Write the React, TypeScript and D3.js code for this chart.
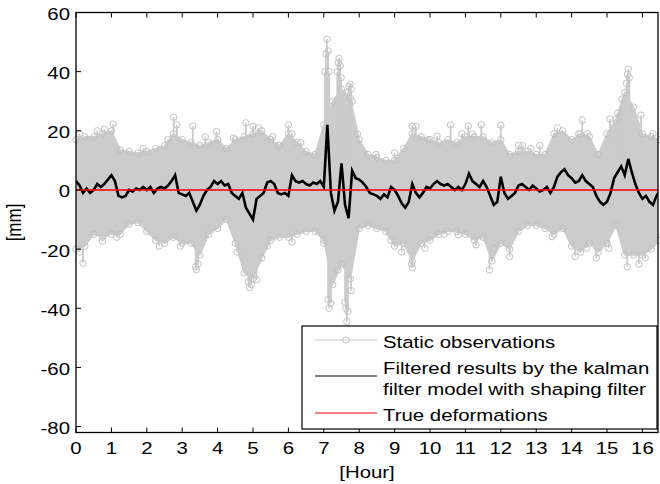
import React from "react";
import * as d3 from "d3";

// ---------- data ----------
const envHours = d3.range(0, 16.51, 0.25);
const obsUpper = [17, 18, 18, 19, 20, 13.5, 13, 12.5, 13, 14, 15, 19, 17, 16, 15, 16, 17, 14, 17, 18, 19, 20, 17, 15, 19, 16, 13, 12, 22, 30, 34, 31, 17, 12, 11, 10, 10, 14, 19, 18, 17, 16, 17, 16, 18, 18, 18, 16, 17, 12, 13, 13, 12, 12, 19, 20, 17, 19, 18, 12, 19, 24, 33, 28, 19, 18, 17];
const obsLower = [-20, -19, -15, -16, -15, -15, -11.5, -11, -14, -17, -18, -16, -18, -18, -22, -15, -13, -10, -18, -28, -30, -23, -17, -16, -16, -15, -14, -14, -17, -32, -25, -30, -13, -12, -13, -14, -19, -18, -24, -18, -17, -15, -14, -14, -15, -17, -16, -24, -18, -20, -14, -12, -12, -13, -15, -13, -19, -21, -18, -21, -18, -12, -22, -22, -22, -20, -17];
const upperSpikes: [number, number][] = [[0.1, 19], [0.6, 20], [0.8, 20.5], [1.05, 22.3], [1.9, 14], [2.6, 17], [2.76, 24.6], [2.85, 22], [3.3, 21.6], [3.65, 18], [3.97, 19.7], [4.45, 17.5], [4.8, 22.7], [5.0, 21.5], [5.15, 21], [5.55, 18], [5.73, 15], [6.0, 22], [6.1, 19], [6.35, 16], [7.03, 40], [7.06, 46], [7.09, 51], [7.12, 47], [7.15, 40], [7.38, 40], [7.41, 43], [7.43, 44.5], [7.46, 42], [7.49, 38], [7.68, 33], [7.71, 35], [7.74, 35.8], [7.77, 34], [7.8, 30], [7.95, 19], [8.47, 12], [9.0, 12.5], [9.5, 21.5], [9.6, 21.5], [9.95, 17], [10.2, 18.2], [10.58, 22], [10.9, 19], [11.08, 21.6], [11.2, 19], [11.45, 22], [12.0, 21.9], [12.5, 15], [12.62, 15], [12.85, 14], [13.1, 15], [13.6, 21], [14.2, 19], [14.3, 23.6], [14.45, 19], [15.08, 24], [15.3, 26], [15.42, 30.7], [15.55, 36], [15.58, 39], [15.6, 40.9], [15.63, 38], [15.96, 25.3], [16.3, 19]];
const lowerSpikes: [number, number][] = [[0.1, -21], [0.2, -24.8], [0.75, -17.3], [1.15, -16], [2.35, -19], [2.95, -19], [3.38, -26], [3.4, -27], [3.45, -25], [4.55, -21], [4.87, -31], [4.9, -33], [4.95, -32], [5.1, -30.4], [5.4, -19], [6.1, -17.5], [7.0, -18], [7.12, -37], [7.15, -40], [7.2, -38.3], [7.4, -27], [7.6, -38], [7.62, -40], [7.65, -44.5], [7.68, -41], [7.77, -34], [8.9, -17], [9.2, -21], [9.48, -25], [9.5, -26.3], [9.85, -19.7], [10.4, -15], [10.8, -15.2], [11.3, -18.6], [11.68, -27], [11.8, -19.7], [12.25, -22.5], [13.45, -15.8], [14.1, -22.5], [14.43, -19.7], [14.7, -23], [15.05, -19.7], [15.57, -26], [15.9, -25], [16.08, -23]];

const filtHours = d3.range(0, 16.51, 0.1);
const filtered = [
  3, 1.5, -1, 0.5, -1, 0, 2, 1, 2, 3.5,
  5, 3, -2, -2.5, -2, 0, -0.5, 0.5, 0, 1,
  0, 1, -1, 0.5, 1, 0.5, 1.5, 3, 5, -1,
  -1.5, -2, -1, -4, -7, -5, -2, 0, 1, 3,
  2, 3, 1.5, 2, -1, -2, -3, -1, -6, -8,
  -10, -3, -2, -1, 2.5, 3, 2, -1, -1.5, -1,
  -2, 5, 3, 2.5, 3, 2, 1.5, 2.5, 2, 3,
  1, 22, -1, -7, -4, 9, -5, -9.5, 6.5, 4,
  3.5, 2.5, 1, -1, -1.5, -2, -3, -1.5, -2.5, 1,
  0, -2, -4.5, -6, -4, 2, -1, -2.5, -1, 1,
  0.5, 2, 3, 2, 1.5, 2, 1, 0, 1, 0,
  2, 5.5, 3, 2, 1, 3, 1, -2, -5, -4,
  4.5, -1, -3, -2, -1, 1.5, 2, 1, 0, 1.5,
  0.5, -0.5, 0, 1, -1, 1, 4.5, 6, 7, 5,
  4, 2.5, 3, 5, 3, 2, 1, -2, -4, -5,
  -4, -1, 4, 6, 8, 5, 10.5, 6, 2, -1,
  -3, -2, -4, -5, -2, 0,
];
const trueDeform = [0, 0];
const trueHours = [0, 16.5];

const xTicks = d3.range(0, 17, 1);
const yTicks = [-80, -60, -40, -20, 0, 20, 40, 60];
const legendLabels = ["Static observations", "Filtered results by the kalman", "filter model with shaping filter", "True deformations"];

// ---------- layout ----------
const W = 660, H = 484;
const L = 76, R = 658, T = 12.5, B = 432.5;
const FONT = "'Liberation Sans', Arial, Helvetica, sans-serif";
const FS = 17;
const SX = 1.2;
const GRAY = "#cccccc";
const GRAY_MK = "#c2c2c2";

const x = d3.scaleLinear().domain([0, 16.44]).range([L, R]);
const y = d3.scaleLinear().domain([-82, 60]).range([B, T]);

function Txt({ px, py, anchor = "start", children }: any) {
  return (
    <text transform={`translate(${px},${py}) scale(${SX},1)`} textAnchor={anchor} dominantBaseline="central"
      fontFamily={FONT} fontSize={FS} fill="#000">{children}</text>
  );
}

export default function App() {
  const band = d3.area<number>()
    .x((_, i) => x(envHours[i]))
    .y0((_, i) => y(obsLower[i]))
    .y1((d) => y(d))(obsUpper) || "";
  const filtLine = d3.line<number>().x((_, i) => x(filtHours[i])).y((d) => y(d))(filtered) || "";
  const trueLine = d3.line<number>().x((_, i) => x(trueHours[i])).y((d) => y(d))(trueDeform) || "";

  const spikes = [...upperSpikes, ...lowerSpikes];

  return (
    <svg width={W} height={H} style={{ position: "absolute", left: 0, top: 0, background: "#fff" }}>
      <defs>
        <clipPath id="plotClip">
          <rect x={L} y={T} width={R - L} height={B - T} />
        </clipPath>
      </defs>
      <rect x={0} y={0} width={W} height={H} fill="#fff" />
      <g clipPath="url(#plotClip)">
        <path d={band} fill={GRAY} stroke={GRAY} strokeWidth={1.5} />
        {spikes.map(([h, v], i) => (
          <line key={"s" + i} x1={x(h)} x2={x(h)} y1={y(0)} y2={y(v)} stroke={GRAY} strokeWidth={1.8} />
        ))}
      </g>
      <g fill="none" stroke={GRAY_MK} strokeWidth={1}>
        {obsUpper.map((v, i) => <circle key={"u" + i} cx={x(envHours[i])} cy={y(v)} r={3.2} />)}
        {obsLower.map((v, i) => <circle key={"l" + i} cx={x(envHours[i])} cy={y(v)} r={3.2} />)}
        {spikes.map(([h, v], i) => <circle key={"c" + i} cx={x(h)} cy={y(v)} r={3.2} />)}
      </g>
      <g clipPath="url(#plotClip)">
        <path d={filtLine} fill="none" stroke="#000" strokeWidth={2.6} />
        <path d={trueLine} fill="none" stroke="#ff0000" strokeWidth={1.4} />
      </g>

      {/* axes box */}
      <rect x={L} y={T} width={R - L} height={B - T} fill="none" stroke="#000" strokeWidth={1.3} />
      {xTicks.map((t) => (
        <g key={"xt" + t}>
          <line x1={x(t)} x2={x(t)} y1={B} y2={B - 5} stroke="#000" strokeWidth={1} />
          <line x1={x(t)} x2={x(t)} y1={T} y2={T + 5} stroke="#000" strokeWidth={1} />
          <Txt px={x(t)} py={448} anchor="middle">{t}</Txt>
        </g>
      ))}
      {yTicks.map((t) => (
        <g key={"yt" + t}>
          <line x1={L} x2={L + 5} y1={y(t)} y2={y(t)} stroke="#000" strokeWidth={1} />
          <Txt px={70} py={y(t) + 1.5} anchor="end">{t}</Txt>
        </g>
      ))}
      <Txt px={(L + R) / 2} py={472} anchor="middle">[Hour]</Txt>
      <text transform={`translate(14,${(T + B) / 2}) rotate(-90) scale(1,${SX})`} textAnchor="middle" dominantBaseline="central"
        fontFamily={FONT} fontSize={FS}>[mm]</text>

      {/* legend */}
      <rect x={302} y={326} width={355} height={103} fill="#fff" stroke="#000" strokeWidth={1.2} />
      <line x1={315} x2={377} y1={340} y2={340} stroke={GRAY} strokeWidth={1.2} />
      <circle cx={346} cy={340} r={3.2} fill="none" stroke={GRAY_MK} strokeWidth={1} />
      <Txt px={383} py={342}>{legendLabels[0]}</Txt>
      <line x1={315} x2={377} y1={376} y2={376} stroke="#000" strokeWidth={1.2} />
      <Txt px={383} py={368}>{legendLabels[1]}</Txt>
      <Txt px={383} py={389}>{legendLabels[2]}</Txt>
      <line x1={315} x2={377} y1={413} y2={413} stroke="#ff0000" strokeWidth={1.2} />
      <Txt px={383} py={415}>{legendLabels[3]}</Txt>
    </svg>
  );
}
